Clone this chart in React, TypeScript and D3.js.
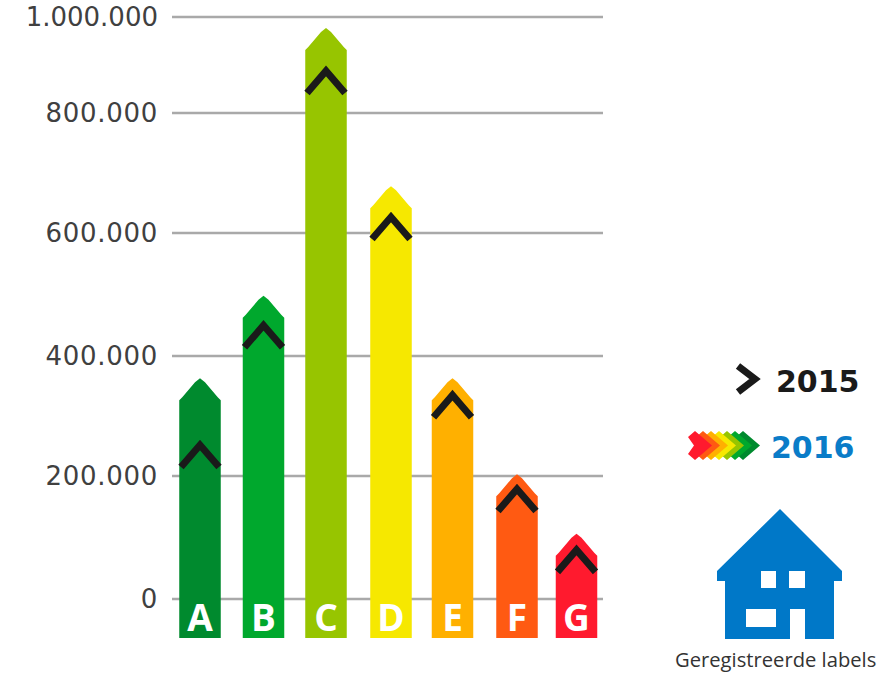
import React from "react";
import * as d3 from "d3";

const categories = ["A", "B", "C", "D", "E", "F", "G"];
const values2016 = [363000, 498000, 977000, 678000, 363000, 203000, 106000];
const values2015 = [260000, 458000, 898000, 635000, 343000, 187000, 88000];
const colors = ["#008a2e", "#00a82d", "#97c500", "#f6e800", "#ffb000", "#ff5a12", "#ff1a2e"];
const tickValues = [0, 200000, 400000, 600000, 800000, 1000000];
const tickLabels = ["0", "200.000", "400.000", "600.000", "800.000", "1.000.000"];
const tickPixels = [599, 476, 356, 233, 113, 17];
const barCentres = [200, 263.5, 326, 391, 452.5, 517, 576.5];

const y = d3.scaleLinear().domain(tickValues).range(tickPixels);
const x = d3.scaleOrdinal<string, number>().domain(categories).range(barCentres);
const BAR_W = 41.5;
const BOTTOM = 638;
const TIP = 22;

const line = d3.line();

function barPath(cx: number, top: number) {
  const l = cx - BAR_W / 2, r = cx + BAR_W / 2;
  return line([
    [l, BOTTOM], [l, top + TIP], [l + 3, top + TIP - 3], [cx - 5, top + 4], [cx, top],
    [cx + 5, top + 4], [r - 3, top + TIP - 3], [r, top + TIP], [r, BOTTOM],
  ]) + "Z";
}

const legendScale = d3.scaleLinear().domain([0, 6]).range([736, 688]);
const houseOuter: [number, number][] = [
  [780, 509], [717, 571], [717, 581], [725, 581], [725, 639], [790, 639], [790, 609],
  [805, 609], [805, 639], [834, 639], [834, 581], [842, 581], [842, 571],
];
const houseWindows = [
  [761, 571, 15, 17], [789, 571, 16, 17], [746, 609, 30, 18],
];
const FONT = "'DejaVu Sans', sans-serif";

export default function App() {
  return (
    <svg width={887} height={674} style={{ position: "absolute", left: 0, top: 0, background: "#fff" }}>
      {tickValues.map((t, i) => (
        <g key={t}>
          <line x1={172} x2={603} y1={y(t)} y2={y(t)} stroke="#a9a9a9" strokeWidth={2.4} />
          <text x={158} y={y(t) + 9} textAnchor="end" fontFamily={FONT} fontSize={26} fill="#404040"
            letterSpacing={i === 5 ? 0 : 0.7}>
            {tickLabels[i]}
          </text>
        </g>
      ))}
      {categories.map((c, i) => {
        const cx = x(c);
        const a = y(values2015[i]) + 5;
        return (
          <g key={c}>
            <path d={barPath(cx, y(values2016[i]))} fill={colors[i]} />
            <path
              d={line([[cx - 19, a + 22], [cx, a], [cx + 19, a + 22]])!}
              fill="none" stroke="#1a1a1a" strokeWidth={7} strokeLinejoin="miter"
            />
            <text x={cx} y={631} textAnchor="middle" fontFamily="'Open Sans', sans-serif"
              fontWeight={700} fontSize={37} fill="#fff">{c}</text>
          </g>
        );
      })}
      <path d={line([[738, 366], [755, 379], [738, 392]])!} fill="none" stroke="#1a1a1a" strokeWidth={7} />
      <text x={776} y={392} fontFamily={FONT} fontWeight={700} fontSize={30} fill="#1a1a1a">2015</text>
      {categories.map((c, i) => {
        const l = legendScale(i);
        return (
          <path key={c} fill={colors[i]}
            d={line([[l, 437], [l + 7, 431], [l + 24, 445.5], [l + 7, 460], [l, 454], [l + 6, 445.5]])! + "Z"} />
        );
      })}
      <text x={771} y={458} fontFamily={FONT} fontWeight={700} fontSize={30} fill="#0a7cc8">2016</text>
      <path d={line(houseOuter)! + "Z"} fill="#0078c8" />
      {houseWindows.map((w, i) => (
        <rect key={i} x={w[0]} y={w[1]} width={w[2]} height={w[3]} fill="#fff" />
      ))}
      <text x={675} y={667} fontFamily="'Open Sans', sans-serif" fontSize={20.2} fill="#333">Geregistreerde labels</text>
    </svg>
  );
}
